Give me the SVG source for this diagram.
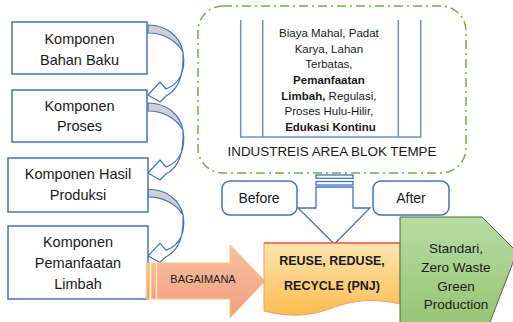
<svg xmlns="http://www.w3.org/2000/svg" width="513" height="322" viewBox="0 0 513 322">
<style>
.box{fill:#fff;stroke:#4472c4;stroke-width:1.5}
.t{font-family:"Liberation Sans",Arial,sans-serif;fill:#1a1a1a;text-anchor:middle}
.bt{font-size:14.5px}
.st{font-size:11.5px}
.cres{fill:#d0d0d0;stroke:#4472c4;stroke-width:1.2}
.band{fill:#fff;stroke:#4472c4;stroke-width:1.2;stroke-linejoin:round}
.blue{stroke:#6a8fd6;stroke-width:1.5;fill:none}
</style>
<defs>
<g id="carrow">
<path class="band" d="M183,52 C186,70 180,84 166,89 L160,82 L148,95 L160,102 L166,96 C178,90 184,75 183,52 Z"/>
<path class="cres" d="M148,25 C166,25 180,36 183,52 C176,40 163,33 148,33 Z"/>
</g>
<linearGradient id="og" x1="0" y1="0" x2="0" y2="1">
<stop offset="0" stop-color="#fee4b0"/>
<stop offset="1" stop-color="#fbbd52"/>
</linearGradient>
<linearGradient id="sg" x1="0" y1="0" x2="0" y2="1">
<stop offset="0" stop-color="#f6c0a3"/>
<stop offset="1" stop-color="#f29f7c"/>
</linearGradient>
<linearGradient id="gg" x1="0" y1="0" x2="0" y2="1">
<stop offset="0" stop-color="#b9dba3"/>
<stop offset="1" stop-color="#93c473"/>
</linearGradient>
</defs>

<g id="industri">
<rect x="198" y="6" width="268" height="167" rx="25" fill="none" stroke="#70ad47" stroke-width="1.5" stroke-dasharray="9 4 2 4"/>
<path class="blue" d="M240.7,20 V137 H420.7 V20 M262.7,20 V137 M398.3,20 V137"/>
<text class="t st" x="330.5">
<tspan x="330.5" y="37">Biaya Mahal, Padat</tspan>
<tspan x="330.5" y="52.5">Karya, Lahan</tspan>
<tspan x="330.5" y="68">Terbatas,</tspan>
<tspan x="330.5" y="84" font-weight="bold">Pemanfaatan</tspan>
<tspan x="330.5" y="99.5"><tspan font-weight="bold">Limbah,</tspan> Regulasi,</tspan>
<tspan x="330.5" y="115">Proses Hulu-Hilir,</tspan>
<tspan x="330.5" y="131" font-weight="bold">Edukasi Kontinu</tspan>
</text>
<text class="t" x="332" y="156" font-size="13.4">INDUSTREIS AREA BLOK TEMPE</text>
</g>

<g id="connectors">
<use href="#carrow"/>
<use href="#carrow" transform="translate(0,78)"/>
<use href="#carrow" transform="translate(0,157) scale(1,0.95) translate(0,9)"/>
</g>

<g id="box1">
<rect class="box" x="12" y="22" width="135" height="52"/>
<text class="t bt" x="79.5" y="44">Komponen</text>
<text class="t bt" x="79.5" y="64.5">Bahan Baku</text>
</g>
<g id="box2">
<rect class="box" x="12" y="90" width="135" height="52"/>
<text class="t bt" x="79.5" y="110.5">Komponen</text>
<text class="t bt" x="79.5" y="131">Proses</text>
</g>
<g id="box3">
<rect class="box" x="8" y="158" width="140" height="54"/>
<text class="t bt" x="78" y="179">Komponen Hasil</text>
<text class="t bt" x="78" y="200">Produksi</text>
</g>
<g id="box4">
<rect class="box" x="8" y="226" width="140" height="73"/>
<text class="t bt" x="78" y="247">Komponen</text>
<text class="t bt" x="78" y="268">Pemanfaatan</text>
<text class="t bt" x="78" y="289">Limbah</text>
</g>

<g id="bagaimana">
<g fill="url(#sg)" stroke="#fbc77d" stroke-width="1">
<rect x="146.5" y="263" width="3" height="36"/>
<rect x="151.5" y="263" width="4" height="36"/>
<path d="M157,263 H230 V245 L265,281 L230,318 V299 H157 Z"/>
</g>
<text class="t" x="203" y="283" font-size="11">BAGAIMANA</text>
</g>

<g id="before">
<rect class="box" x="222" y="181" width="75" height="34" rx="8"/>
<text class="t" x="259" y="203" font-size="14">Before</text>
</g>
<g id="after">
<rect class="box" x="373" y="181" width="76" height="34" rx="8"/>
<text class="t" x="411" y="203" font-size="14">After</text>
</g>

<g id="downarrow" fill="#fff" stroke="#4472c4" stroke-width="1.3" stroke-linejoin="miter">
<rect x="316" y="175" width="37" height="3.3"/>
<rect x="316" y="181.5" width="37" height="3.5"/>
<path d="M316,187 H353 V208 H370 L334.3,244 L298,208 H316 Z"/>
</g>

<g id="reuse">
<path d="M264,243 H400 V304 C376,298 352,300 332,308 C306,318 284,316 264,311 Z" fill="url(#og)" stroke="#f29a6a" stroke-width="1"/>
<path d="M264,243 H400" stroke="#e8322c" stroke-width="1.2"/>
<text class="t" x="332" y="265" font-size="12.5" font-weight="bold">REUSE, REDUSE,</text>
<text class="t" x="332" y="290" font-size="12.5" font-weight="bold">RECYCLE (PNJ)</text>
</g>

<g id="standari">
<path d="M400,217 H482 L517,252 L487,330 H400 Z" fill="url(#gg)" stroke="#4e6b3a" stroke-width="1"/>
<text class="t" x="456" y="253" font-size="13.5">Standari,</text>
<text class="t" x="456" y="272" font-size="13.5">Zero Waste</text>
<text class="t" x="456" y="291" font-size="13.5">Green</text>
<text class="t" x="456" y="309" font-size="13.5">Production</text>
</g>
</svg>
